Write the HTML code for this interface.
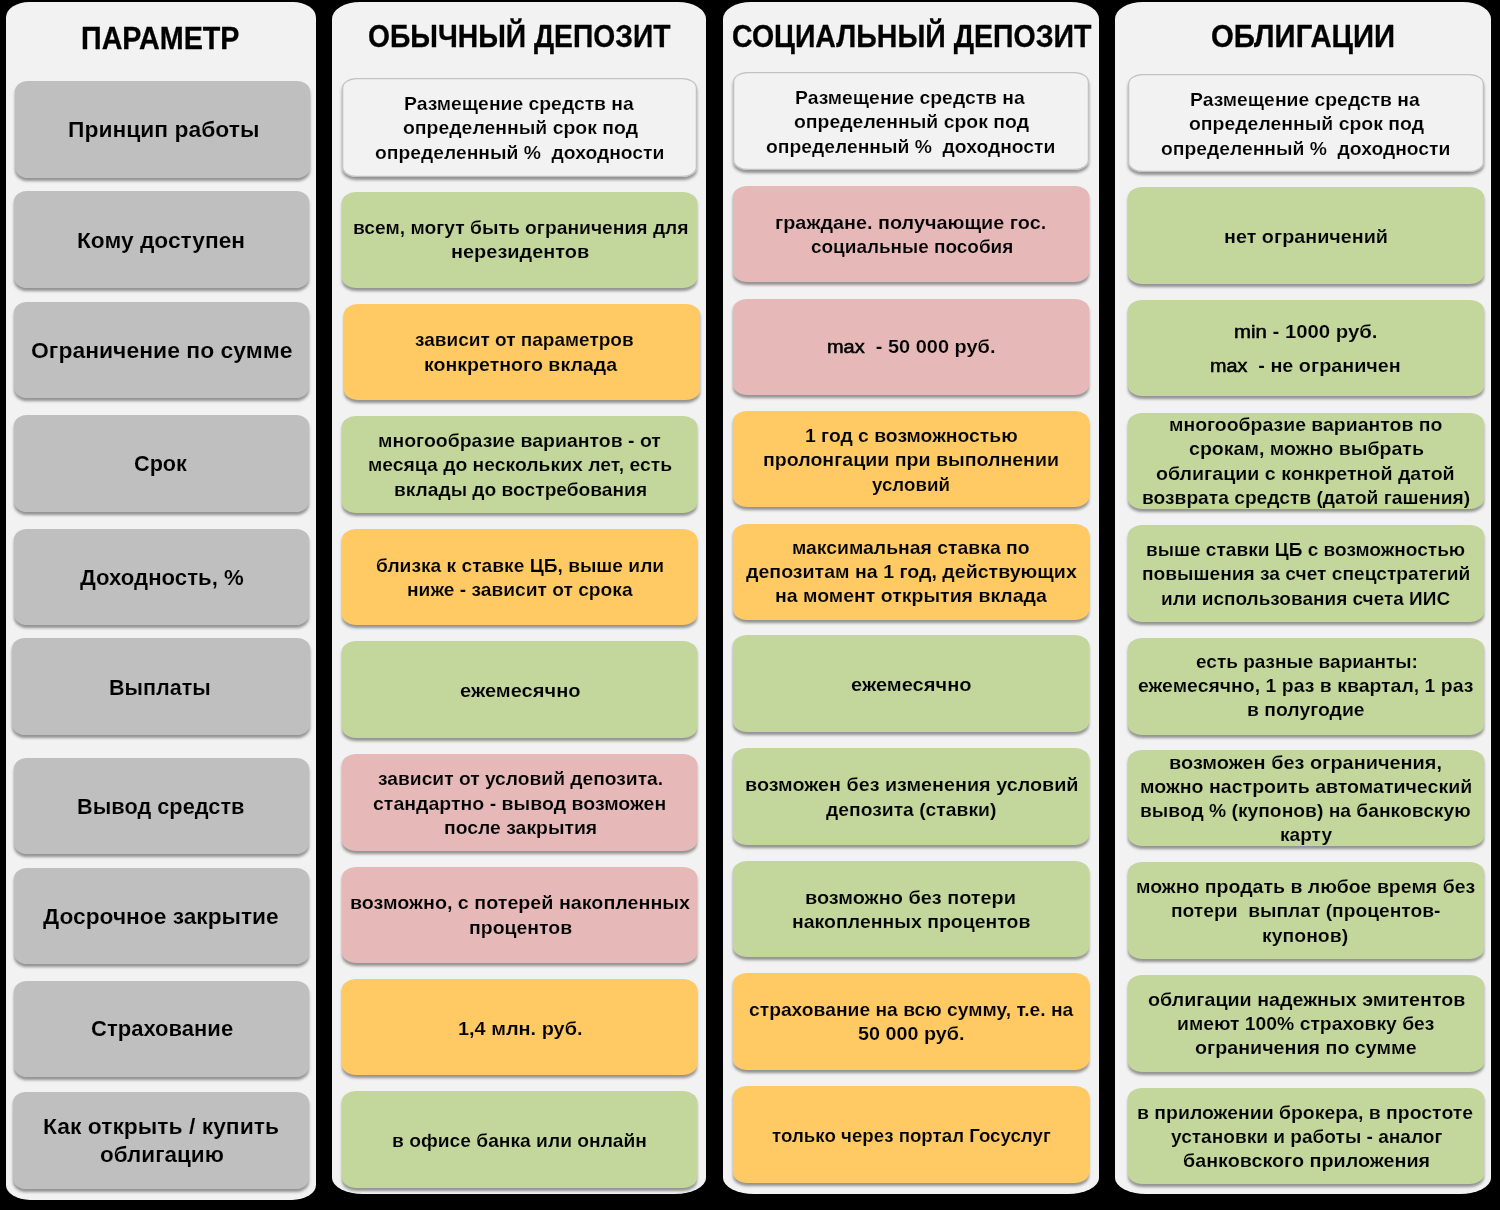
<!DOCTYPE html>
<html lang="ru"><head><meta charset="utf-8"><title>Сравнение: депозиты и облигации</title>
<style>
html,body{margin:0;padding:0;background:#000;}
body{width:1500px;height:1210px;position:relative;overflow:hidden;font-family:"Liberation Sans", sans-serif;}
#r{position:absolute;left:0;top:0;width:1500px;height:1210px;will-change:transform;}
.p{position:absolute;background:#f2f2f2;border-radius:28px 28px 31px 31px/17px 17px 16px 16px;}
.p1{border-radius:23px 23px 24px 24px/15.5px 15.5px 15px 15px;}
.h{-webkit-text-stroke:0.3px #000;}
.b{position:absolute;border-radius:14.5px/10px;box-shadow:0 3px 3px rgba(0,0,0,.40);}
.g{border-radius:13px/10.5px;}
.w{box-shadow:0 3px 3px rgba(0,0,0,.40), inset 0 0 0 1.3px #c2c2c2;}
.t{position:absolute;white-space:pre;font-weight:bold;color:#000;line-height:1;transform-origin:0 0;}
.t i{font-style:normal;font-weight:normal;-webkit-text-stroke:0.55px #000;}
</style></head><body><div id="r">
<div class="p p1" style="left:6px;top:2px;width:310px;height:1198px"></div>
<div class="p" style="left:332px;top:2px;width:374px;height:1192px"></div>
<div class="p" style="left:723px;top:2px;width:376px;height:1192px"></div>
<div class="p" style="left:1115px;top:2px;width:376px;height:1192px"></div>
<div class="b g" style="left:15px;top:81px;width:295px;height:97px;background:#bfbfbf"></div>
<div class="b g" style="left:14px;top:191px;width:295px;height:97px;background:#bfbfbf"></div>
<div class="b g" style="left:14px;top:302px;width:295px;height:96px;background:#bfbfbf"></div>
<div class="b g" style="left:14px;top:415px;width:295px;height:97px;background:#bfbfbf"></div>
<div class="b g" style="left:14px;top:529px;width:295px;height:96px;background:#bfbfbf"></div>
<div class="b g" style="left:12px;top:638px;width:298px;height:97px;background:#bfbfbf"></div>
<div class="b g" style="left:14px;top:758px;width:295px;height:96px;background:#bfbfbf"></div>
<div class="b g" style="left:14px;top:868px;width:295px;height:96px;background:#bfbfbf"></div>
<div class="b g" style="left:14px;top:981px;width:295px;height:96px;background:#bfbfbf"></div>
<div class="b g" style="left:13px;top:1092px;width:296px;height:97px;background:#bfbfbf"></div>
<div class="b w" style="left:342px;top:78px;width:355px;height:99px;background:#f2f2f2"></div>
<div class="b" style="left:342px;top:192px;width:355px;height:96px;background:#c3d69b"></div>
<div class="b" style="left:344px;top:304px;width:356px;height:96px;background:#ffca63"></div>
<div class="b" style="left:342px;top:416px;width:355px;height:97px;background:#c3d69b"></div>
<div class="b" style="left:342px;top:529px;width:355px;height:96px;background:#ffca63"></div>
<div class="b" style="left:342px;top:641px;width:355px;height:97px;background:#c3d69b"></div>
<div class="b" style="left:342px;top:754px;width:355px;height:97px;background:#e6b9b8"></div>
<div class="b" style="left:342px;top:867px;width:355px;height:96px;background:#e6b9b8"></div>
<div class="b" style="left:342px;top:979px;width:355px;height:96px;background:#ffca63"></div>
<div class="b" style="left:342px;top:1091px;width:355px;height:97px;background:#c3d69b"></div>
<div class="b w" style="left:733px;top:72px;width:356px;height:98px;background:#f2f2f2"></div>
<div class="b" style="left:733px;top:186px;width:356px;height:96px;background:#e6b9b8"></div>
<div class="b" style="left:733px;top:299px;width:356px;height:96px;background:#e6b9b8"></div>
<div class="b" style="left:733px;top:411px;width:356px;height:96px;background:#ffca63"></div>
<div class="b" style="left:733px;top:524px;width:356px;height:96px;background:#ffca63"></div>
<div class="b" style="left:733px;top:635px;width:356px;height:97px;background:#c3d69b"></div>
<div class="b" style="left:733px;top:748px;width:356px;height:97px;background:#c3d69b"></div>
<div class="b" style="left:733px;top:861px;width:356px;height:96px;background:#c3d69b"></div>
<div class="b" style="left:733px;top:973px;width:356px;height:97px;background:#ffca63"></div>
<div class="b" style="left:733px;top:1086px;width:356px;height:97px;background:#ffca63"></div>
<div class="b w" style="left:1128px;top:74px;width:356px;height:98px;background:#f2f2f2"></div>
<div class="b" style="left:1128px;top:187px;width:356px;height:97px;background:#c3d69b"></div>
<div class="b" style="left:1128px;top:300px;width:356px;height:96px;background:#c3d69b"></div>
<div class="b" style="left:1128px;top:413px;width:356px;height:96px;background:#c3d69b"></div>
<div class="b" style="left:1128px;top:525px;width:356px;height:97px;background:#c3d69b"></div>
<div class="b" style="left:1128px;top:638px;width:356px;height:97px;background:#c3d69b"></div>
<div class="b" style="left:1128px;top:750px;width:356px;height:96px;background:#c3d69b"></div>
<div class="b" style="left:1128px;top:862px;width:356px;height:97px;background:#c3d69b"></div>
<div class="b" style="left:1128px;top:975px;width:356px;height:97px;background:#c3d69b"></div>
<div class="b" style="left:1128px;top:1088px;width:356px;height:96px;background:#c3d69b"></div>
<span class="t h" style="left:81.45px;top:23.00px;font-size:31px;transform:scaleX(0.9261)">ПАРАМЕТР</span>
<span class="t h" style="left:368.29px;top:21.10px;font-size:31px;transform:scaleX(0.9111)">ОБЫЧНЫЙ ДЕПОЗИТ</span>
<span class="t h" style="left:731.78px;top:21.10px;font-size:31px;transform:scaleX(0.9196)">СОЦИАЛЬНЫЙ ДЕПОЗИТ</span>
<span class="t h" style="left:1211.16px;top:21.00px;font-size:31px;transform:scaleX(0.9440)">ОБЛИГАЦИИ</span>
<span class="t" style="left:67.69px;top:118.85px;font-size:22.6px;-webkit-text-stroke:0.15px #bfbfbf;transform:scaleX(1.0117)">Принцип работы</span>
<span class="t" style="left:76.69px;top:229.60px;font-size:22.6px;-webkit-text-stroke:0.15px #bfbfbf;transform:scaleX(1.0059)">Кому доступен</span>
<span class="t" style="left:30.70px;top:339.60px;font-size:22.6px;-webkit-text-stroke:0.15px #bfbfbf;transform:scaleX(1.0152)">Ограничение по сумме</span>
<span class="t" style="left:134.20px;top:453.10px;font-size:22.6px;-webkit-text-stroke:0.15px #bfbfbf;transform:scaleX(0.9585)">Срок</span>
<span class="t" style="left:79.70px;top:567.10px;font-size:22.6px;-webkit-text-stroke:0.15px #bfbfbf;transform:scaleX(0.9815)">Доходность, %</span>
<span class="t" style="left:109.24px;top:676.60px;font-size:22.6px;-webkit-text-stroke:0.15px #bfbfbf;transform:scaleX(0.9555)">Выплаты</span>
<span class="t" style="left:77.49px;top:796.35px;font-size:22.6px;-webkit-text-stroke:0.15px #bfbfbf;transform:scaleX(0.9632)">Вывод средств</span>
<span class="t" style="left:43.20px;top:905.60px;font-size:22.6px;-webkit-text-stroke:0.15px #bfbfbf;transform:scaleX(1.0058)">Досрочное закрытие</span>
<span class="t" style="left:90.70px;top:1018.10px;font-size:22.6px;-webkit-text-stroke:0.15px #bfbfbf;transform:scaleX(0.9749)">Страхование</span>
<span class="t" style="left:43.19px;top:1116.10px;font-size:22.6px;-webkit-text-stroke:0.15px #bfbfbf;transform:scaleX(1.0126)">Как открыть / купить</span>
<span class="t" style="left:99.70px;top:1143.60px;font-size:22.6px;-webkit-text-stroke:0.15px #bfbfbf;transform:scaleX(0.9952)">облигацию</span>
<span class="t" style="left:404.42px;top:95.10px;font-size:18.8px;-webkit-text-stroke:0.15px #f2f2f2;transform:scaleX(1.0294)">Размещение средств на</span>
<span class="t" style="left:402.70px;top:119.10px;font-size:18.8px;-webkit-text-stroke:0.15px #f2f2f2;transform:scaleX(1.0343)">определенный срок под</span>
<span class="t" style="left:375.45px;top:143.60px;font-size:18.8px;-webkit-text-stroke:0.15px #f2f2f2;transform:scaleX(1.0275)">определенный %  доходности</span>
<span class="t" style="left:352.67px;top:218.60px;font-size:18.8px;-webkit-text-stroke:0.15px #c3d69b;transform:scaleX(1.0263)">всем, могут быть ограничения для</span>
<span class="t" style="left:451.14px;top:243.10px;font-size:18.8px;-webkit-text-stroke:0.15px #c3d69b;transform:scaleX(1.0612)">нерезидентов</span>
<span class="t" style="left:415.20px;top:331.10px;font-size:18.8px;-webkit-text-stroke:0.15px #ffca63;transform:scaleX(1.0126)">зависит от параметров</span>
<span class="t" style="left:424.16px;top:355.60px;font-size:18.8px;-webkit-text-stroke:0.15px #ffca63;transform:scaleX(1.0423)">конкретного вклада</span>
<span class="t" style="left:377.66px;top:432.10px;font-size:18.8px;-webkit-text-stroke:0.15px #c3d69b;transform:scaleX(1.0363)">многообразие вариантов - от</span>
<span class="t" style="left:368.17px;top:456.10px;font-size:18.8px;-webkit-text-stroke:0.15px #c3d69b;transform:scaleX(1.0302)">месяца до нескольких лет, есть</span>
<span class="t" style="left:393.68px;top:480.60px;font-size:18.8px;-webkit-text-stroke:0.15px #c3d69b;transform:scaleX(1.0212)">вклады до востребования</span>
<span class="t" style="left:376.20px;top:557.10px;font-size:18.8px;-webkit-text-stroke:0.15px #ffca63;transform:scaleX(1.0222)">близка к ставке ЦБ, выше или</span>
<span class="t" style="left:406.68px;top:581.10px;font-size:18.8px;-webkit-text-stroke:0.15px #ffca63;transform:scaleX(1.0216)">ниже - зависит от срока</span>
<span class="t" style="left:459.70px;top:681.85px;font-size:18.8px;-webkit-text-stroke:0.15px #c3d69b;transform:scaleX(1.0704)">ежемесячно</span>
<span class="t" style="left:377.95px;top:770.10px;font-size:18.8px;-webkit-text-stroke:0.15px #e6b9b8;transform:scaleX(1.0235)">зависит от условий депозита.</span>
<span class="t" style="left:373.20px;top:794.60px;font-size:18.8px;-webkit-text-stroke:0.15px #e6b9b8;transform:scaleX(1.0394)">стандартно - вывод возможен</span>
<span class="t" style="left:443.67px;top:818.60px;font-size:18.8px;-webkit-text-stroke:0.15px #e6b9b8;transform:scaleX(1.0311)">после закрытия</span>
<span class="t" style="left:349.65px;top:893.60px;font-size:18.8px;-webkit-text-stroke:0.15px #e6b9b8;transform:scaleX(1.0489)">возможно, с потерей накопленных</span>
<span class="t" style="left:468.66px;top:918.60px;font-size:18.8px;-webkit-text-stroke:0.15px #e6b9b8;transform:scaleX(1.0362)">процентов</span>
<span class="t" style="left:458.14px;top:1019.85px;font-size:18.8px;-webkit-text-stroke:0.15px #ffca63;transform:scaleX(1.0599)">1,4 млн. руб.</span>
<span class="t" style="left:392.18px;top:1132.35px;font-size:18.8px;-webkit-text-stroke:0.15px #c3d69b;transform:scaleX(1.0236)">в офисе банка или онлайн</span>
<span class="t" style="left:795.42px;top:89.10px;font-size:18.8px;-webkit-text-stroke:0.15px #f2f2f2;transform:scaleX(1.0294)">Размещение средств на</span>
<span class="t" style="left:793.70px;top:113.10px;font-size:18.8px;-webkit-text-stroke:0.15px #f2f2f2;transform:scaleX(1.0343)">определенный срок под</span>
<span class="t" style="left:766.45px;top:137.60px;font-size:18.8px;-webkit-text-stroke:0.15px #f2f2f2;transform:scaleX(1.0275)">определенный %  доходности</span>
<span class="t" style="left:775.39px;top:214.10px;font-size:18.8px;-webkit-text-stroke:0.15px #e6b9b8;transform:scaleX(1.0551)">граждане. получающие гос.</span>
<span class="t" style="left:810.70px;top:238.10px;font-size:18.8px;-webkit-text-stroke:0.15px #e6b9b8;transform:scaleX(1.0087)">социальные пособия</span>
<span class="t" style="left:826.64px;top:338.10px;font-size:18.8px;-webkit-text-stroke:0.15px #e6b9b8;transform:scaleX(1.0626)"><i>max</i>  - 50 000 руб.</span>
<span class="t" style="left:804.67px;top:427.10px;font-size:18.8px;-webkit-text-stroke:0.15px #ffca63;transform:scaleX(1.0292)">1 год с возможностью</span>
<span class="t" style="left:762.91px;top:451.10px;font-size:18.8px;-webkit-text-stroke:0.15px #ffca63;transform:scaleX(1.0417)">пролонгации при выполнении</span>
<span class="t" style="left:872.20px;top:475.60px;font-size:18.8px;-webkit-text-stroke:0.15px #ffca63;transform:scaleX(0.9959)">условий</span>
<span class="t" style="left:792.42px;top:538.60px;font-size:18.8px;-webkit-text-stroke:0.15px #ffca63;transform:scaleX(1.0319)">максимальная ставка по</span>
<span class="t" style="left:745.70px;top:562.60px;font-size:18.8px;-webkit-text-stroke:0.15px #ffca63;transform:scaleX(1.0423)">депозитам на 1 год, действующих</span>
<span class="t" style="left:774.91px;top:587.10px;font-size:18.8px;-webkit-text-stroke:0.15px #ffca63;transform:scaleX(1.0377)">на момент открытия вклада</span>
<span class="t" style="left:850.70px;top:676.10px;font-size:18.8px;-webkit-text-stroke:0.15px #c3d69b;transform:scaleX(1.0704)">ежемесячно</span>
<span class="t" style="left:744.65px;top:776.10px;font-size:18.8px;-webkit-text-stroke:0.15px #c3d69b;transform:scaleX(1.0528)">возможен без изменения условий</span>
<span class="t" style="left:825.70px;top:800.60px;font-size:18.8px;-webkit-text-stroke:0.15px #c3d69b;transform:scaleX(1.0277)">депозита (ставки)</span>
<span class="t" style="left:805.39px;top:888.60px;font-size:18.8px;-webkit-text-stroke:0.15px #c3d69b;transform:scaleX(1.0591)">возможно без потери</span>
<span class="t" style="left:791.66px;top:912.60px;font-size:18.8px;-webkit-text-stroke:0.15px #c3d69b;transform:scaleX(1.0373)">накопленных процентов</span>
<span class="t" style="left:748.95px;top:1001.10px;font-size:18.8px;-webkit-text-stroke:0.15px #ffca63;transform:scaleX(1.0256)">страхование на всю сумму, т.е. на</span>
<span class="t" style="left:858.20px;top:1024.85px;font-size:18.8px;-webkit-text-stroke:0.15px #ffca63;transform:scaleX(1.0517)">50 000 руб.</span>
<span class="t" style="left:771.95px;top:1126.60px;font-size:18.8px;-webkit-text-stroke:0.15px #ffca63;transform:scaleX(0.9964)">только через портал Госуслуг</span>
<span class="t" style="left:1190.42px;top:91.10px;font-size:18.8px;-webkit-text-stroke:0.15px #f2f2f2;transform:scaleX(1.0294)">Размещение средств на</span>
<span class="t" style="left:1188.70px;top:115.10px;font-size:18.8px;-webkit-text-stroke:0.15px #f2f2f2;transform:scaleX(1.0343)">определенный срок под</span>
<span class="t" style="left:1161.45px;top:139.60px;font-size:18.8px;-webkit-text-stroke:0.15px #f2f2f2;transform:scaleX(1.0275)">определенный %  доходности</span>
<span class="t" style="left:1223.65px;top:228.10px;font-size:18.8px;-webkit-text-stroke:0.15px #c3d69b;transform:scaleX(1.0522)">нет ограничений</span>
<span class="t" style="left:1233.62px;top:323.10px;font-size:18.8px;-webkit-text-stroke:0.15px #c3d69b;transform:scaleX(1.0835)"><i>min</i> - 1000 руб.</span>
<span class="t" style="left:1209.90px;top:356.85px;font-size:18.8px;-webkit-text-stroke:0.15px #c3d69b;transform:scaleX(1.0528)"><i>max</i>  - не ограничен</span>
<span class="t" style="left:1169.16px;top:416.10px;font-size:18.8px;-webkit-text-stroke:0.15px #c3d69b;transform:scaleX(1.0352)">многообразие вариантов по</span>
<span class="t" style="left:1188.95px;top:440.10px;font-size:18.8px;-webkit-text-stroke:0.15px #c3d69b;transform:scaleX(1.0412)">срокам, можно выбрать</span>
<span class="t" style="left:1156.45px;top:464.60px;font-size:18.8px;-webkit-text-stroke:0.15px #c3d69b;transform:scaleX(1.0442)">облигации с конкретной датой</span>
<span class="t" style="left:1141.68px;top:488.60px;font-size:18.8px;-webkit-text-stroke:0.15px #c3d69b;transform:scaleX(1.0225)">возврата средств (датой гашения)</span>
<span class="t" style="left:1146.18px;top:541.10px;font-size:18.8px;-webkit-text-stroke:0.15px #c3d69b;transform:scaleX(1.0159)">выше ставки ЦБ с возможностью</span>
<span class="t" style="left:1141.68px;top:565.10px;font-size:18.8px;-webkit-text-stroke:0.15px #c3d69b;transform:scaleX(1.0217)">повышения за счет спецстратегий</span>
<span class="t" style="left:1161.19px;top:589.60px;font-size:18.8px;-webkit-text-stroke:0.15px #c3d69b;transform:scaleX(1.0122)">или использования счета ИИС</span>
<span class="t" style="left:1195.70px;top:653.10px;font-size:18.8px;-webkit-text-stroke:0.15px #c3d69b;transform:scaleX(1.0123)">есть разные варианты:</span>
<span class="t" style="left:1138.20px;top:677.10px;font-size:18.8px;-webkit-text-stroke:0.15px #c3d69b;transform:scaleX(1.0361)">ежемесячно, 1 раз в квартал, 1 раз</span>
<span class="t" style="left:1246.67px;top:701.35px;font-size:18.8px;-webkit-text-stroke:0.15px #c3d69b;transform:scaleX(1.0319)">в полугодие</span>
<span class="t" style="left:1169.14px;top:753.60px;font-size:18.8px;-webkit-text-stroke:0.15px #c3d69b;transform:scaleX(1.0602)">возможен без ограничения,</span>
<span class="t" style="left:1139.66px;top:777.60px;font-size:18.8px;-webkit-text-stroke:0.15px #c3d69b;transform:scaleX(1.0418)">можно настроить автоматический</span>
<span class="t" style="left:1139.67px;top:802.10px;font-size:18.8px;-webkit-text-stroke:0.15px #c3d69b;transform:scaleX(1.0258)">вывод % (купонов) на банковскую</span>
<span class="t" style="left:1279.68px;top:826.10px;font-size:18.8px;-webkit-text-stroke:0.15px #c3d69b;transform:scaleX(1.0170)">карту</span>
<span class="t" style="left:1135.66px;top:878.10px;font-size:18.8px;-webkit-text-stroke:0.15px #c3d69b;transform:scaleX(1.0391)">можно продать в любое время без</span>
<span class="t" style="left:1171.18px;top:902.10px;font-size:18.8px;-webkit-text-stroke:0.15px #c3d69b;transform:scaleX(1.0232)">потери  выплат (процентов-</span>
<span class="t" style="left:1262.42px;top:926.60px;font-size:18.8px;-webkit-text-stroke:0.15px #c3d69b;transform:scaleX(1.0345)">купонов)</span>
<span class="t" style="left:1147.70px;top:990.60px;font-size:18.8px;-webkit-text-stroke:0.15px #c3d69b;transform:scaleX(1.0476)">облигации надежных эмитентов</span>
<span class="t" style="left:1176.67px;top:1014.60px;font-size:18.8px;-webkit-text-stroke:0.15px #c3d69b;transform:scaleX(1.0294)">имеют 100% страховку без</span>
<span class="t" style="left:1195.20px;top:1039.10px;font-size:18.8px;-webkit-text-stroke:0.15px #c3d69b;transform:scaleX(1.0480)">ограничения по сумме</span>
<span class="t" style="left:1137.17px;top:1103.60px;font-size:18.8px;-webkit-text-stroke:0.15px #c3d69b;transform:scaleX(1.0348)">в приложении брокера, в простоте</span>
<span class="t" style="left:1170.70px;top:1127.60px;font-size:18.8px;-webkit-text-stroke:0.15px #c3d69b;transform:scaleX(1.0165)">установки и работы - аналог</span>
<span class="t" style="left:1182.70px;top:1152.10px;font-size:18.8px;-webkit-text-stroke:0.15px #c3d69b;transform:scaleX(1.0513)">банковского приложения</span>
</div></body></html>
